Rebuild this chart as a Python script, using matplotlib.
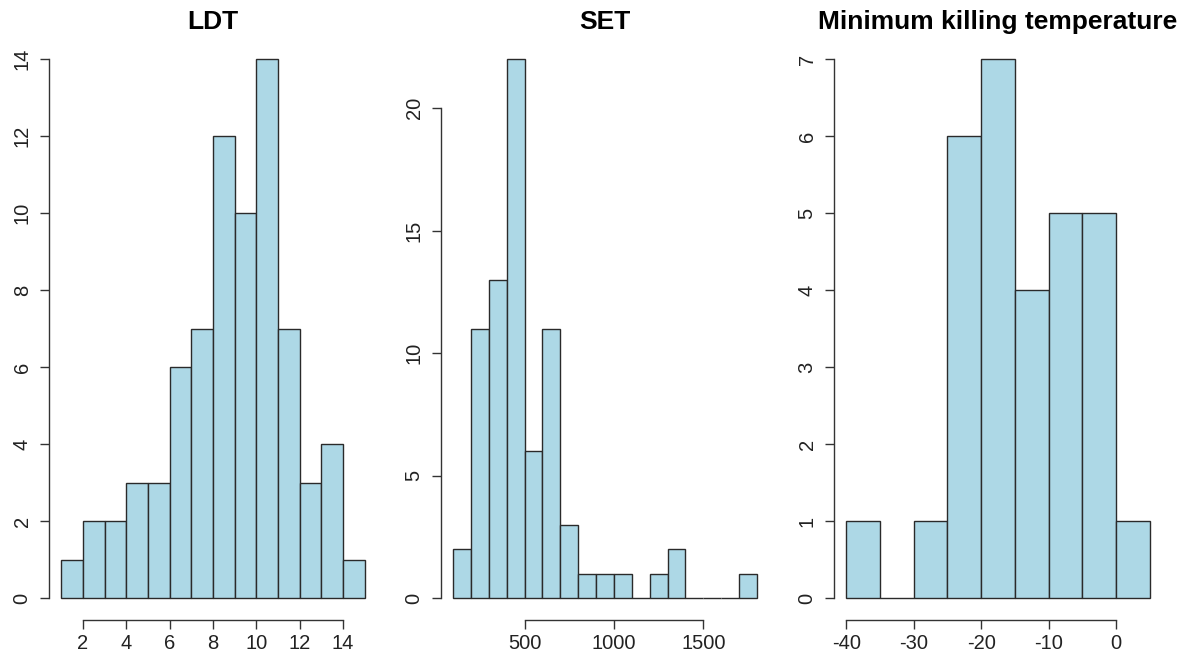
import numpy as np
import matplotlib
matplotlib.use("Agg")
import matplotlib.pyplot as plt

plt.rcParams['font.family'] = ['Liberation Sans', 'DejaVu Sans']
plt.rcParams['axes.unicode_minus'] = False

# ---- data ----
ldt_edges = [1, 2, 3, 4, 5, 6, 7, 8, 9, 10, 11, 12, 13, 14, 15]
ldt_counts = [1, 2, 2, 3, 3, 6, 7, 12, 10, 14, 7, 3, 4, 1]

set_edges = [100, 200, 300, 400, 500, 600, 700, 800, 900, 1000, 1100, 1200,
             1300, 1400, 1500, 1600, 1700, 1800]
set_counts = [2, 11, 13, 22, 6, 11, 3, 1, 1, 1, 0, 1, 2, 0, 0, 0, 1]

mkt_edges = [-40, -35, -30, -25, -20, -15, -10, -5, 0, 5]
mkt_counts = [1, 0, 1, 6, 7, 4, 5, 5, 1]

titles = ["LDT", "SET", "Minimum killing temperature"]
xticks_list = [[2, 4, 6, 8, 10, 12, 14], [500, 1000, 1500], [-40, -30, -20, -10, 0]]
yticks_list = [[0, 2, 4, 6, 8, 10, 12, 14], [0, 5, 10, 15, 20], [0, 1, 2, 3, 4, 5, 6, 7]]

W, H = 1194, 657
fig = plt.figure(figsize=(W / 100, H / 100), dpi=100)

lefts = [49, 441, 834]
width = 328
top_px, bot_px = 37.5, 619.6

datasets = [(ldt_edges, ldt_counts), (set_edges, set_counts), (mkt_edges, mkt_counts)]

for i, ((edges, counts), title, xt, yt) in enumerate(zip(datasets, titles, xticks_list, yticks_list)):
    ax = fig.add_axes([lefts[i] / W, 1 - bot_px / H, width / W, (bot_px - top_px) / H])
    e = np.array(edges, dtype=float)
    c = np.array(counts, dtype=float)
    ax.bar(e[:-1], c, width=np.diff(e), align='edge', color='#ADD8E6',
           edgecolor='#2a2a2a', linewidth=1.0)
    rng = e[-1] - e[0]
    ax.set_xlim(e[0] - 0.04 * rng, e[-1] + 0.04 * rng)
    ymax = c.max()
    ax.set_ylim(-0.04 * ymax, ymax * 1.04)
    for s in ['top', 'right']:
        ax.spines[s].set_visible(False)
    ax.spines['left'].set_bounds(yt[0], yt[-1])
    ax.spines['bottom'].set_bounds(xt[0], xt[-1])
    for s in ['left', 'bottom']:
        ax.spines[s].set_color('#333333')
        ax.spines[s].set_linewidth(1.0)
    ax.set_xticks(xt)
    ax.set_yticks(yt)
    ax.tick_params(axis='both', direction='out', length=6.5, width=1.0,
                   color='#333333', labelsize=14.5, labelcolor='#222222')
    ax.tick_params(axis='x', pad=4)
    ax.tick_params(axis='y', pad=6)
    for lab in ax.get_yticklabels():
        lab.set_rotation(90)
        lab.set_va('center')
    ax.set_title(title, fontsize=19, fontweight='bold', pad=6)
    ax.patch.set_alpha(0)

fig.savefig("out.png", dpi=100)
